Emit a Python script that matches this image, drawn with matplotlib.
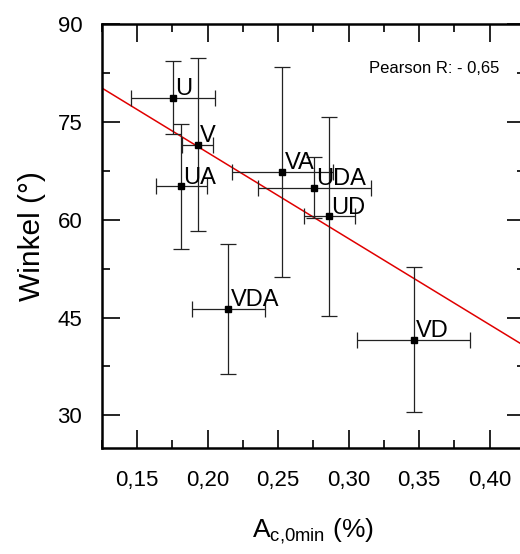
import matplotlib
matplotlib.use("Agg")
import matplotlib.pyplot as plt
from matplotlib.ticker import MultipleLocator, FuncFormatter

plt.rcParams["font.family"] = ["Liberation Sans", "DejaVu Sans"]
plt.rcParams["mathtext.fontset"] = "custom"
plt.rcParams["mathtext.rm"] = "Liberation Sans"

# Data
labels = ["U", "V", "UA", "VA", "UDA", "UD", "VDA", "VD"]
a_c0min = [0.1755, 0.1931, 0.1813, 0.2530, 0.2756, 0.2862, 0.2148, 0.3461]
a_err = [0.030, 0.011, 0.018, 0.036, 0.040, 0.018, 0.026, 0.040]
winkel = [78.7, 71.5, 65.1, 67.3, 64.9, 60.5, 46.3, 41.6]
winkel_err = [5.6, 13.3, 9.6, 16.1, 4.7, 15.2, 9.9, 11.1]

# linear fit shown in the chart
fit_intercept = 96.7
fit_slope = -132.0
fit_x = [0.125, 0.425]
pearson_text = "Pearson R: - 0,65"

fig = plt.figure(figsize=(5.20, 5.54), dpi=100)
ax = fig.add_axes([0.1956, 0.1913, 0.8140, 0.7654])

ax.errorbar(a_c0min, winkel, xerr=a_err, yerr=winkel_err, fmt="s",
            color="black", ecolor="#222222", elinewidth=0.9, capsize=6,
            capthick=0.9, markersize=4, zorder=3)

ax.plot(fit_x, [fit_intercept + fit_slope * x for x in fit_x],
        color="#e00000", linewidth=1.1, zorder=2)

for lab, x, y in zip(labels, a_c0min, winkel):
    ax.annotate(lab, (x, y), xytext=(1.5, -1.5), textcoords="offset points",
                ha="left", va="bottom", fontsize=17, zorder=4)

ax.text(0.9386, 0.894, pearson_text, transform=ax.transAxes,
        ha="right", va="center", fontsize=12)

ax.set_xlim(0.125, 0.425)
ax.set_ylim(25, 90)
ax.xaxis.set_major_locator(MultipleLocator(0.05))
ax.xaxis.set_minor_locator(MultipleLocator(0.025))
ax.yaxis.set_major_locator(MultipleLocator(15))
ax.yaxis.set_minor_locator(MultipleLocator(7.5))
ax.xaxis.set_major_formatter(FuncFormatter(lambda v, p: f"{v:.2f}".replace(".", ",")))
ax.yaxis.set_major_formatter(FuncFormatter(lambda v, p: f"{v:.0f}"))

ax.tick_params(which="both", direction="in", top=True, right=True, width=1.2)
ax.tick_params(which="major", length=13, labelsize=16)
ax.tick_params(axis="x", which="major", pad=16)
ax.tick_params(axis="y", which="major", pad=14)
ax.tick_params(which="minor", length=6)
for s in ax.spines.values():
    s.set_linewidth(1.8)

ax.set_xlabel(r"A$_{\mathregular{c{,}0min}}$ (%)", fontsize=19, labelpad=18)
ax.set_ylabel("Winkel (°)", fontsize=21.5, labelpad=8)

fig.savefig("out.png", dpi=100)
